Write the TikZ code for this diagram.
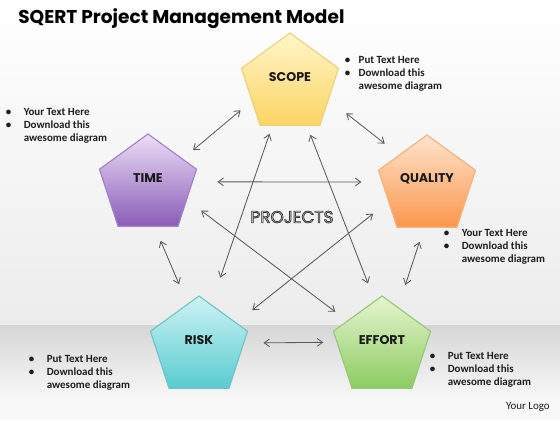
\documentclass[tikz,border=0pt]{standalone}
\usepackage{fontspec}
\setmainfont{Carlito}
\newfontfamily\gothfont{Poppins}
\usetikzlibrary{shapes.geometric, arrows.meta}
\definecolor{bgmid}{RGB}{236,236,236}
\definecolor{bandtop}{RGB}{214,214,214}
\definecolor{bandbot}{RGB}{248,248,248}
\definecolor{linkgray}{RGB}{90,90,90}
\definecolor{labelink}{RGB}{25,25,25}
\definecolor{tipink}{RGB}{30,30,30}
\definecolor{projfill}{RGB}{200,200,200}
\definecolor{scopetop}{RGB}{255,246,200}
\definecolor{scopebot}{RGB}{252,212,100}
\definecolor{scopeline}{RGB}{240,208,120}
\definecolor{timetop}{RGB}{236,222,246}
\definecolor{timebot}{RGB}{138,92,184}
\definecolor{timeline}{RGB}{160,130,200}
\definecolor{qualtop}{RGB}{254,228,206}
\definecolor{qualbot}{RGB}{251,150,76}
\definecolor{qualline}{RGB}{246,178,120}
\definecolor{risktop}{RGB}{206,242,244}
\definecolor{riskbot}{RGB}{88,204,208}
\definecolor{riskline}{RGB}{110,196,198}
\definecolor{efforttop}{RGB}{230,245,208}
\definecolor{effortbot}{RGB}{140,204,96}
\definecolor{effortline}{RGB}{150,200,120}
\newcommand{\tiplines}[2]{\begin{tabular}{@{}l@{\hspace{#1}}l@{}}\textbullet & #2\\ \textbullet & Download this\\ & awesome diagram\end{tabular}}
\newcommand{\outlined}[1]{\special{pdf:literal direct 0.2 0.2 0.2 RG 0.5 w 2 Tr}#1\special{pdf:literal direct 0 Tr}}

\begin{document}
\begin{tikzpicture}[
  >={Straight Barb[length=3.8pt,width=5.5pt]},
  pent/.style={regular polygon, regular polygon sides=5, minimum size=2.55cm, inner sep=0pt, line width=0.8pt},
  pentlabel/.style={font=\gothfont\bfseries\fontsize{9}{10}\selectfont, text=labelink},
  tips/.style={anchor=north west, inner sep=0pt, font=\fontsize{7.8}{9.2}\selectfont\bfseries, text=tipink},
  link/.style={<->, line width=0.6pt, draw=linkgray}
]
% background
\useasboundingbox (0,0) rectangle (14,10.5);
\shade[top color=white, bottom color=bgmid] (0,2.375) rectangle (14,10.5);
\shade[top color=bandtop, bottom color=bandbot] (0,0.5) rectangle (14,2.375);
\fill[bandbot] (0,0) rectangle (14,0.5);

% title
\node[anchor=base west, inner sep=0pt, font=\gothfont\bfseries\fontsize{13.2}{15}\selectfont] (title) at (0.45,9.9) {SQERT Project Management Model};

% pentagons
\node[pent, draw=scopeline, top color=scopetop, bottom color=scopebot] (scope) at (7.25,8.4) {};
\node[pent, draw=timeline, top color=timetop, bottom color=timebot] (time) at (3.7,5.875) {};
\node[pent, draw=qualline, top color=qualtop, bottom color=qualbot] (quality) at (10.675,5.85) {};
\node[pent, draw=riskline, top color=risktop, bottom color=riskbot] (risk) at (4.975,1.825) {};
\node[pent, draw=effortline, top color=efforttop, bottom color=effortbot] (effort) at (9.55,1.825) {};
\node[pentlabel] at ([yshift=1.8mm]scope.center) {SCOPE};
\node[pentlabel] at ([yshift=1.8mm]time.center) {TIME};
\node[pentlabel] at ([yshift=1.8mm]quality.center) {QUALITY};
\node[pentlabel] at ([yshift=1.8mm]risk.center) {RISK};
\node[pentlabel] at ([yshift=1.8mm]effort.center) {EFFORT};

% centre text
\node[font=\gothfont\fontsize{12}{14}\selectfont, text=projfill] (projects) at (7.3,5.075) {\outlined{PROJECTS}};

% connections
\draw[link, shorten <=0.36cm, shorten >=0.33cm] (scope.204) -- (time.37);
\draw[link, shorten <=0.55cm, shorten >=0.45cm] (scope.338) -- (quality.132);
\draw[link, shorten <=0.61cm, shorten >=0.51cm] (time.4) -- (quality.175);
\draw[link, shorten <=0.44cm, shorten >=0.37cm] (time.339) -- (effort.143);
\draw[link, shorten <=0.48cm, shorten >=0.5cm] (quality.202) -- (risk.33);
\draw[link, shorten <=0.21cm, shorten >=0.7cm] (scope.247) -- (risk.74);
\draw[link, shorten <=0.24cm, shorten >=0.46cm] (scope.292) -- (effort.99);
\draw[link, shorten <=0.38cm, shorten >=0.53cm] (time.279) -- (risk.105);
\draw[link, shorten <=0.37cm, shorten >=0.58cm] (quality.266) -- (effort.68);
\draw[link, shorten <=0.48cm, shorten >=0.33cm] (risk.5) -- (effort.174);

% side notes
\node[tips] (scopenote) at (8.6125,9.1375) {\tiplines{6pt}{Put Text Here}};
\node[tips] (timenote) at (0.1375,7.8375) {\tiplines{8.9pt}{Your Text Here}};
\node[tips] (qualnote) at (11.0875,4.8125) {\tiplines{8.9pt}{Your Text Here}};
\node[tips] (risknote) at (0.7125,1.6625) {\tiplines{8.9pt}{Put Text Here}};
\node[tips] (effortnote) at (10.7375,1.7375) {\tiplines{8.9pt}{Put Text Here}};
\node[anchor=east, inner sep=0pt, font=\fontsize{7.8}{9}\selectfont, text=tipink] (logo) at (13.75,0.325) {Your Logo};
\end{tikzpicture}
\end{document}
